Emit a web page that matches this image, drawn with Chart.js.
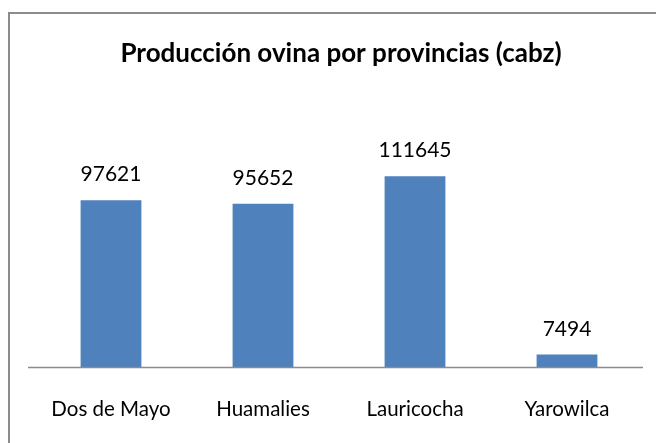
<!DOCTYPE html>
<html>
<head>
<meta charset="utf-8">
<script src="https://cdn.jsdelivr.net/npm/chart.js@4/dist/chart.umd.min.js"></script>
<style>
  html, body { margin: 0; padding: 0; background: #fff; }
  #wrap { width: 656px; height: 443px; }
</style>
</head>
<body>
<div id="wrap"><canvas id="ovinos" width="656" height="443"></canvas></div>
<script>
const provincias = ['Dos de Mayo', 'Huamalies', 'Lauricocha', 'Yarowilca'];
const cabezas = [97621, 95652, 111645, 7494];
const titulo = 'Producción ovina por provincias (cabz)';

const FONT = 'Lato, "Liberation Sans", sans-serif';

// marco, titulo, eje y etiquetas de datos al estilo Excel
const decoracion = {
    id: 'decoracion',
    beforeDraw(chart) {
        const c = chart.ctx;
        c.save();
        c.strokeStyle = '#8c8c8c';
        c.lineWidth = 2;
        c.beginPath();
        c.moveTo(9, 443);
        c.lineTo(9, 13);
        c.lineTo(656, 13);
        c.stroke();
        c.restore();
    },
    afterDatasetsDraw(chart) {
        const c = chart.ctx;
        const y0 = chart.scales.y.getPixelForValue(0);
        c.save();
        c.strokeStyle = '#8c8c8c';
        c.lineWidth = 1.5;
        c.beginPath();
        c.moveTo(28, y0);
        c.lineTo(chart.chartArea.right, y0);
        c.stroke();

        c.fillStyle = '#000';
        c.textAlign = 'center';
        c.font = 'bold 26px ' + FONT;
        c.textBaseline = 'middle';
        c.fillText(titulo, 341, 54);

        c.font = '21px ' + FONT;
        c.textBaseline = 'alphabetic';
        chart.getDatasetMeta(0).data.forEach((bar, i) => {
            c.fillText(String(cabezas[i]), bar.x, bar.y - 19);
        });
        c.restore();
    }
};

new Chart(document.getElementById('ovinos'), {
    type: 'bar',
    data: {
        labels: provincias,
        datasets: [{
            data: cabezas,
            backgroundColor: '#4f81bd',
            borderWidth: 0,
            categoryPercentage: 1,
            barPercentage: 0.4
        }]
    },
    options: {
        responsive: false,
        animation: false,
        layout: { padding: { left: 35, right: 13, top: 162, bottom: -9 } },
        plugins: {
            legend: { display: false },
            tooltip: { enabled: false },
            title: { display: false }
        },
        scales: {
            x: {
                grid: { display: false, drawTicks: false },
                border: { display: false },
                ticks: {
                    color: '#000',
                    padding: 30,
                    font: { family: FONT, size: 20.5 }
                }
            },
            y: {
                display: false,
                min: 0,
                max: 120000
            }
        }
    },
    plugins: [decoracion]
});
</script>
</body>
</html>
